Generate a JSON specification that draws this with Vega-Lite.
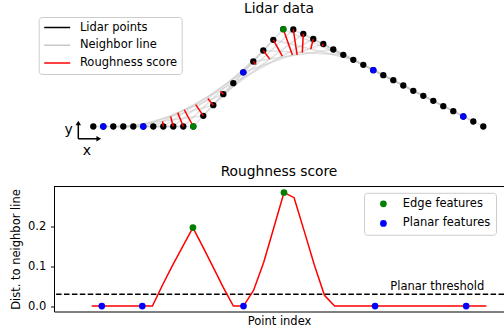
{
  "$schema": "https://vega.github.io/schema/vega-lite/v6.json",
  "padding": {"left": 10, "top": 2, "right": 0, "bottom": 0},
  "spacing": 5.5,
  "config": {
    "font": "DejaVu Sans",
    "view": {"stroke": null},
    "title": {"fontSize": 13.8, "fontWeight": "normal", "font": "DejaVu Sans", "baseline": "alphabetic", "anchor": "middle", "frame": "group", "color": "black"},
    "axis": {"labelFont": "DejaVu Sans", "titleFont": "DejaVu Sans", "labelFontSize": 11.5, "titleFontSize": 11.5, "titleFontWeight": "normal", "labelColor": "black", "titleColor": "black", "domainColor": "black", "tickColor": "black", "grid": false},
    "legend": {"labelFont": "DejaVu Sans", "labelFontSize": 11.5, "labelColor": "black"}
  },
  "datasets": {
    "pts": [
      {"i": 0, "X": 0.0, "Y": 0, "score": 0},
      {"i": 1, "X": 0.1, "Y": 0, "score": 0, "feature": "Planar features"},
      {"i": 2, "X": 0.2, "Y": 0, "score": 0},
      {"i": 3, "X": 0.3, "Y": 0, "score": 0},
      {"i": 4, "X": 0.4, "Y": 0, "score": 0},
      {"i": 5, "X": 0.5, "Y": 0, "score": 0, "feature": "Planar features"},
      {"i": 6, "X": 0.6, "Y": 0, "score": 0},
      {"i": 7, "X": 0.7, "Y": 0, "score": 0.053},
      {"i": 8, "X": 0.8, "Y": 0, "score": 0.103},
      {"i": 9, "X": 0.9, "Y": 0, "score": 0.15},
      {"i": 10, "X": 1.0, "Y": 0, "score": 0.197, "feature": "Edge features"},
      {"i": 11, "X": 1.1, "Y": 0.107, "score": 0.148},
      {"i": 12, "X": 1.2, "Y": 0.213, "score": 0.098},
      {"i": 13, "X": 1.3, "Y": 0.323, "score": 0.047},
      {"i": 14, "X": 1.4, "Y": 0.433, "score": 0},
      {"i": 15, "X": 1.5, "Y": 0.542, "score": 0, "feature": "Planar features"},
      {"i": 16, "X": 1.6, "Y": 0.65, "score": 0.04},
      {"i": 17, "X": 1.7, "Y": 0.76, "score": 0.11},
      {"i": 18, "X": 1.8, "Y": 0.867, "score": 0.197},
      {"i": 19, "X": 1.9, "Y": 0.973, "score": 0.285, "feature": "Edge features"},
      {"i": 20, "X": 2.0, "Y": 0.97, "score": 0.272},
      {"i": 21, "X": 2.1, "Y": 0.927, "score": 0.188},
      {"i": 22, "X": 2.2, "Y": 0.875, "score": 0.103},
      {"i": 23, "X": 2.3, "Y": 0.825, "score": 0.027},
      {"i": 24, "X": 2.4, "Y": 0.77, "score": 0},
      {"i": 25, "X": 2.5, "Y": 0.717, "score": 0},
      {"i": 26, "X": 2.6, "Y": 0.667, "score": 0},
      {"i": 27, "X": 2.7, "Y": 0.617, "score": 0},
      {"i": 28, "X": 2.8, "Y": 0.563, "score": 0, "feature": "Planar features"},
      {"i": 29, "X": 2.9, "Y": 0.513, "score": 0},
      {"i": 30, "X": 3.0, "Y": 0.463, "score": 0},
      {"i": 31, "X": 3.1, "Y": 0.41, "score": 0},
      {"i": 32, "X": 3.2, "Y": 0.357, "score": 0},
      {"i": 33, "X": 3.3, "Y": 0.307, "score": 0},
      {"i": 34, "X": 3.4, "Y": 0.257, "score": 0},
      {"i": 35, "X": 3.5, "Y": 0.203, "score": 0},
      {"i": 36, "X": 3.6, "Y": 0.153, "score": 0},
      {"i": 37, "X": 3.7, "Y": 0.1, "score": 0, "feature": "Planar features"},
      {"i": 38, "X": 3.8, "Y": 0.05, "score": 0},
      {"i": 39, "X": 3.9, "Y": 0, "score": 0}
    ],
    "chords": [
      {"c": 4, "X": 0.0, "Y": 0, "X2": 0.8, "Y2": 0},
      {"c": 5, "X": 0.1, "Y": 0, "X2": 0.9, "Y2": 0},
      {"c": 6, "X": 0.2, "Y": 0, "X2": 1.0, "Y2": 0},
      {"c": 7, "X": 0.3, "Y": 0, "X2": 1.1, "Y2": 0.107},
      {"c": 8, "X": 0.4, "Y": 0, "X2": 1.2, "Y2": 0.213},
      {"c": 9, "X": 0.5, "Y": 0, "X2": 1.3, "Y2": 0.323},
      {"c": 10, "X": 0.6, "Y": 0, "X2": 1.4, "Y2": 0.433},
      {"c": 11, "X": 0.7, "Y": 0, "X2": 1.5, "Y2": 0.542},
      {"c": 12, "X": 0.8, "Y": 0, "X2": 1.6, "Y2": 0.65},
      {"c": 13, "X": 0.9, "Y": 0, "X2": 1.7, "Y2": 0.76},
      {"c": 14, "X": 1.0, "Y": 0, "X2": 1.8, "Y2": 0.867},
      {"c": 15, "X": 1.1, "Y": 0.107, "X2": 1.9, "Y2": 0.973},
      {"c": 16, "X": 1.2, "Y": 0.213, "X2": 2.0, "Y2": 0.97},
      {"c": 17, "X": 1.3, "Y": 0.323, "X2": 2.1, "Y2": 0.927},
      {"c": 18, "X": 1.4, "Y": 0.433, "X2": 2.2, "Y2": 0.875},
      {"c": 19, "X": 1.5, "Y": 0.542, "X2": 2.3, "Y2": 0.825},
      {"c": 20, "X": 1.6, "Y": 0.65, "X2": 2.4, "Y2": 0.77},
      {"c": 21, "X": 1.7, "Y": 0.76, "X2": 2.5, "Y2": 0.717},
      {"c": 22, "X": 1.8, "Y": 0.867, "X2": 2.6, "Y2": 0.667},
      {"c": 23, "X": 1.9, "Y": 0.973, "X2": 2.7, "Y2": 0.617},
      {"c": 24, "X": 2.0, "Y": 0.97, "X2": 2.8, "Y2": 0.563},
      {"c": 25, "X": 2.1, "Y": 0.927, "X2": 2.9, "Y2": 0.513},
      {"c": 26, "X": 2.2, "Y": 0.875, "X2": 3.0, "Y2": 0.463},
      {"c": 27, "X": 2.3, "Y": 0.825, "X2": 3.1, "Y2": 0.41},
      {"c": 28, "X": 2.4, "Y": 0.77, "X2": 3.2, "Y2": 0.357},
      {"c": 29, "X": 2.5, "Y": 0.717, "X2": 3.3, "Y2": 0.307},
      {"c": 30, "X": 2.6, "Y": 0.667, "X2": 3.4, "Y2": 0.257},
      {"c": 31, "X": 2.7, "Y": 0.617, "X2": 3.5, "Y2": 0.203},
      {"c": 32, "X": 2.8, "Y": 0.563, "X2": 3.6, "Y2": 0.153},
      {"c": 33, "X": 2.9, "Y": 0.513, "X2": 3.7, "Y2": 0.1},
      {"c": 34, "X": 3.0, "Y": 0.463, "X2": 3.8, "Y2": 0.05},
      {"c": 35, "X": 3.1, "Y": 0.41, "X2": 3.9, "Y2": 0}
    ],
    "rough": [
      {"i": 7, "X": 0.7, "Y": 0, "X2": 0.693, "Y2": 0.0526},
      {"i": 8, "X": 0.8, "Y": 0, "X2": 0.7735, "Y2": 0.0995},
      {"i": 9, "X": 0.9, "Y": 0, "X2": 0.8439, "Y2": 0.1389},
      {"i": 10, "X": 1.0, "Y": 0, "X2": 0.9094, "Y2": 0.1675},
      {"i": 11, "X": 1.1, "Y": 0.107, "X2": 1.0238, "Y2": 0.2194},
      {"i": 12, "X": 1.2, "Y": 0.213, "X2": 1.1452, "Y2": 0.2805},
      {"i": 13, "X": 1.3, "Y": 0.323, "X2": 1.2715, "Y2": 0.353},
      {"i": 16, "X": 1.6, "Y": 0.65, "X2": 1.6292, "Y2": 0.6191},
      {"i": 17, "X": 1.7, "Y": 0.76, "X2": 1.7649, "Y2": 0.674},
      {"i": 18, "X": 1.8, "Y": 0.867, "X2": 1.8902, "Y2": 0.7038},
      {"i": 19, "X": 1.9, "Y": 0.973, "X2": 1.991, "Y2": 0.7157},
      {"i": 20, "X": 2.0, "Y": 0.97, "X2": 2.0382, "Y2": 0.7157},
      {"i": 21, "X": 2.1, "Y": 0.927, "X2": 2.0899, "Y2": 0.739},
      {"i": 22, "X": 2.2, "Y": 0.875, "X2": 2.1746, "Y2": 0.7734},
      {"i": 23, "X": 2.3, "Y": 0.825, "X2": 2.2889, "Y2": 0.8}
    ],
    "thr": [{"threshold": 0.03, "label": "Planar threshold"}],
    "one": [{"n": 1}]
  },
  "resolve": {"scale": {"color": "independent"}, "legend": {"color": "independent"}},
  "vconcat": [
    {
      "width": 450,
      "height": 142,
      "title": {"text": "Lidar data", "offset": 0.5},
      "layer": [
        {
          "data": {"name": "chords"},
          "mark": {"type": "rule", "strokeWidth": 1.5, "opacity": 0.55},
          "encoding": {
            "x": {"field": "X", "type": "quantitative", "scale": {"domain": [-0.393, 4.107], "nice": false, "zero": false}, "axis": null},
            "y": {"field": "Y", "type": "quantitative", "scale": {"domain": [-0.325, 1.095], "nice": false, "zero": false}, "axis": null},
            "x2": {"field": "X2"},
            "y2": {"field": "Y2"},
            "color": {
              "datum": "Neighbor line", "type": "nominal",
              "scale": {"domain": ["Lidar points", "Neighbor line", "Roughness score"], "range": ["black", "#c8c8c8", "red"]},
              "legend": {
                "orient": "none", "legendX": -15.3, "legendY": 0, "title": null,
                "symbolSize": 676, "symbolType": "stroke", "symbolStrokeWidth": 1.5, "symbolOpacity": 1, "symbolOffset": 0,
                "labelFontSize": 11.5, "labelOffset": 8.7, "rowPadding": 5.7, "clipHeight": 12, "padding": 4.5,
                "fillColor": "white", "strokeColor": "#cccccc", "cornerRadius": 3
              }
            }
          }
        },
        {
          "data": {"name": "pts"},
          "mark": {"type": "point", "filled": true, "size": 40, "opacity": 1},
          "encoding": {
            "x": {"field": "X", "type": "quantitative"},
            "y": {"field": "Y", "type": "quantitative"},
            "color": {"datum": "Lidar points", "type": "nominal"}
          }
        },
        {
          "data": {"name": "rough"},
          "mark": {"type": "rule", "strokeWidth": 1.5},
          "encoding": {
            "x": {"field": "X", "type": "quantitative"},
            "y": {"field": "Y", "type": "quantitative"},
            "x2": {"field": "X2"},
            "y2": {"field": "Y2"},
            "color": {"datum": "Roughness score", "type": "nominal"}
          }
        },
        {
          "data": {"name": "pts"},
          "transform": [{"filter": "datum.feature === 'Edge features'"}],
          "mark": {"type": "point", "filled": true, "size": 40, "opacity": 1, "color": "green"},
          "encoding": {
            "x": {"field": "X", "type": "quantitative"},
            "y": {"field": "Y", "type": "quantitative"}
          }
        },
        {
          "data": {"name": "pts"},
          "transform": [{"filter": "datum.feature === 'Planar features'"}],
          "mark": {"type": "point", "filled": true, "size": 40, "opacity": 1, "color": "blue"},
          "encoding": {
            "x": {"field": "X", "type": "quantitative"},
            "y": {"field": "Y", "type": "quantitative"}
          }
        },
        {
          "data": {"name": "one"},
          "mark": {"type": "rule", "strokeWidth": 1.5, "color": "black"},
          "encoding": {
            "x": {"datum": -0.15, "type": "quantitative"},
            "y": {"datum": -0.123, "type": "quantitative"},
            "y2": {"datum": 0.03}
          }
        },
        {
          "data": {"name": "one"},
          "mark": {"type": "rule", "strokeWidth": 1.5, "color": "black"},
          "encoding": {
            "x": {"datum": -0.15, "type": "quantitative"},
            "x2": {"datum": 0.05},
            "y": {"datum": -0.123, "type": "quantitative"}
          }
        },
        {
          "data": {"name": "one"},
          "mark": {"type": "point", "shape": "triangle-up", "filled": true, "size": 30, "opacity": 1, "color": "black"},
          "encoding": {
            "x": {"datum": -0.15, "type": "quantitative"},
            "y": {"datum": 0.035, "type": "quantitative"}
          }
        },
        {
          "data": {"name": "one"},
          "mark": {"type": "point", "shape": "triangle-right", "filled": true, "size": 30, "opacity": 1, "color": "black"},
          "encoding": {
            "x": {"datum": 0.055, "type": "quantitative"},
            "y": {"datum": -0.123, "type": "quantitative"}
          }
        },
        {
          "data": {"name": "one"},
          "mark": {"type": "text", "fontSize": 14, "font": "DejaVu Sans", "align": "center", "baseline": "alphabetic", "color": "black"},
          "encoding": {
            "x": {"datum": -0.246, "type": "quantitative"},
            "y": {"datum": -0.07, "type": "quantitative"},
            "text": {"value": "y"}
          }
        },
        {
          "data": {"name": "one"},
          "mark": {"type": "text", "fontSize": 14, "font": "DejaVu Sans", "align": "center", "baseline": "alphabetic", "color": "black"},
          "encoding": {
            "x": {"datum": -0.063, "type": "quantitative"},
            "y": {"datum": -0.285, "type": "quantitative"},
            "text": {"value": "x"}
          }
        }
      ]
    },
    {
      "width": 450,
      "height": 125,
      "title": {"text": "Roughness score", "offset": 7},
      "layer": [
        {
          "data": {"name": "one"},
          "mark": {"type": "rule", "strokeWidth": 1, "color": "black"},
          "encoding": {
            "y": {"datum": 0.3, "type": "quantitative", "scale": {"domain": [-0.0135, 0.3], "nice": false, "zero": false}}
          }
        },
        {
          "data": {"name": "thr"},
          "mark": {"type": "rule", "strokeDash": [5.5, 2.4], "strokeWidth": 1.5, "color": "black"},
          "encoding": {
            "y": {"field": "threshold", "type": "quantitative"}
          }
        },
        {
          "data": {"name": "thr"},
          "mark": {"type": "text", "align": "right", "baseline": "alphabetic", "dy": -4.4, "fontSize": 11.5, "font": "DejaVu Sans", "color": "black"},
          "encoding": {
            "x": {"datum": 38.8, "type": "quantitative"},
            "y": {"field": "threshold", "type": "quantitative"},
            "text": {"field": "label"}
          }
        },
        {
          "data": {"name": "pts"},
          "mark": {"type": "line", "color": "red", "strokeWidth": 1.5},
          "encoding": {
            "x": {"field": "i", "type": "quantitative", "scale": {"domain": [-3.725, 40.74], "nice": false, "zero": false},
                  "axis": {"labels": false, "ticks": false, "domain": true, "title": "Point index", "titlePadding": 4}},
            "y": {"field": "score", "type": "quantitative",
                  "axis": {"values": [0, 0.1, 0.2], "format": ".1f", "tickSize": 3.5, "labelPadding": 4.8, "title": "Dist. to neighbor line", "titlePadding": 6}}
          }
        },
        {
          "data": {"name": "pts"},
          "transform": [{"filter": "datum.feature"}],
          "mark": {"type": "point", "filled": true, "size": 45, "opacity": 1},
          "encoding": {
            "x": {"field": "i", "type": "quantitative"},
            "y": {"field": "score", "type": "quantitative"},
            "color": {
              "field": "feature", "type": "nominal",
              "scale": {"domain": ["Edge features", "Planar features"], "range": ["green", "blue"]},
              "legend": {
                "orient": "none", "legendX": 310, "legendY": 6.3, "title": null,
                "symbolType": "circle", "symbolSize": 45, "symbolOffset": 8.65, "symbolStrokeWidth": 0,
                "labelFontSize": 11.5, "labelOffset": 13.65, "rowPadding": 7.6, "clipHeight": 12, "padding": 5,
                "fillColor": "white", "strokeColor": "#cccccc", "cornerRadius": 3
              }
            }
          }
        }
      ]
    }
  ]
}
